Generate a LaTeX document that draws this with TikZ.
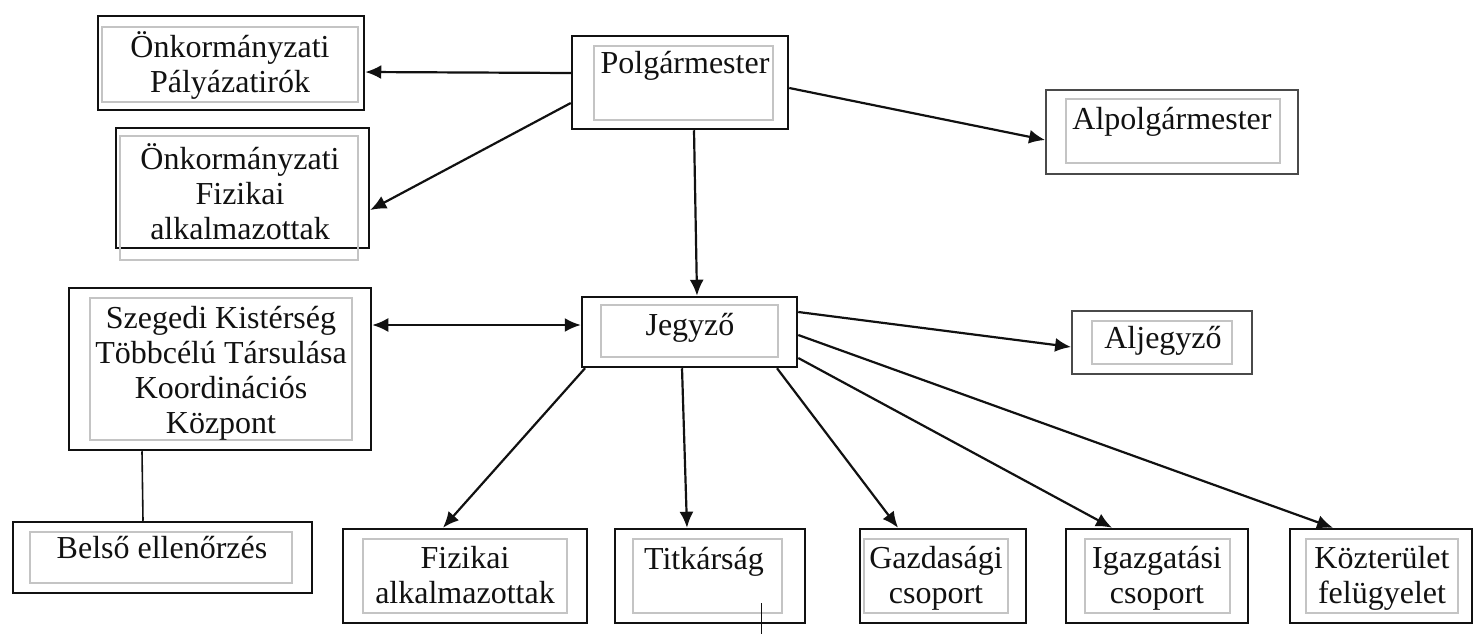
\documentclass[tikz,border=0pt]{standalone}
\usepackage{fontspec}
\setmainfont{Liberation Serif}
\usetikzlibrary{arrows.meta,positioning}
\definecolor{ink}{HTML}{111111}
\definecolor{frame}{HTML}{C4C4C4}
\definecolor{soft}{HTML}{4A4A4A}

\begin{document}
\begin{tikzpicture}[x=1pt,y=-1pt,
    font=\fontsize{32}{35}\selectfont,
    outerbox/.style={draw=ink,line width=2.5pt,inner sep=0pt},
    softbox/.style={draw=soft,line width=1.8pt,inner sep=0pt},
    innerbox/.style={draw=frame,line width=1.1pt,inner sep=0pt},
    lbl/.style={ink,align=center,inner sep=0pt},
    link/.style={ink,line width=2.2pt,-{Latex[length=16pt,width=14pt]}},
    twoway/.style={ink,line width=2.2pt,{Latex[length=16pt,width=14pt]}-{Latex[length=16pt,width=14pt]}},
  ]
  \useasboundingbox (0,0) rectangle (1482,634);

  % ============================================================= BOXES
  % outer frames: name / centre x / centre y / width / height (pixels)
  \foreach \nm/\cx/\cy/\ow/\oh in {
      palya/231/63/266/94, onkfiz/242.5/188/253/120, polg/680/82.5/216/93,
      szeg/220/369/302/162, belso/162.5/557.5/299/71, jegyzo/689.5/332/215/70,
      fizb/465/576/244/94, tit/710/576/190/94, gaz/943/576/166/94,
      igaz/1157/576/182/94, koz/1381/576/182/94}{
    \node[outerbox,minimum width=\ow,minimum height=\oh] (\nm) at (\cx,\cy){};
  }
  % the two deputies have a lighter frame
  \foreach \nm/\cx/\cy/\ow/\oh in {alp/1172/132/252/84, aljegyzo/1162/342.5/180/63}{
    \node[softbox,minimum width=\ow,minimum height=\oh] (\nm) at (\cx,\cy){};
  }
  % inner grey text frames
  \foreach \nm/\cx/\cy/\iw/\ih in {
      palya/230/64.5/256/75, onkfiz/239/198/238/124, polg/683.5/83/179/74,
      alp/1173/131/214/64, szeg/221/369/262/142, belso/161/557.5/262/51,
      jegyzo/689.5/331/177/52, aljegyzo/1162/342.5/140/43,
      fizb/465/576/204/74, tit/707.5/576/149/74, gaz/936/576/144/74,
      igaz/1157.5/576/145/74, koz/1382/576/152/74}{
    \node[innerbox,minimum width=\iw,minimum height=\ih] (\nm-i) at (\cx,\cy){};
  }

  % ============================================================= LABELS
  \node[lbl] (palya-t)    at (230,65)    {Önkormányzati\\Pályázatirók};
  \node[lbl] (onkfiz-t)   at (240,192)   {Önkormányzati\\Fizikai\\alkalmazottak};
  \node[lbl] (polg-t)     at (685,66)    {Polgármester};
  \node[lbl] (alp-t)      at (1172,121.5){Alpolgármester};
  \node[lbl] (szeg-t)     at (221,373.5) {Szegedi Kistérség\\Többcélú Társulása\\Koordinációs\\Központ};
  \node[lbl] (belso-t)    at (162,547.5) {Belső ellenőrzés};
  \node[lbl] (jegyzo-t)   at (690,327.5) {Jegyző};
  \node[lbl] (aljegyzo-t) at (1163,340.5){Aljegyző};
  \node[lbl] (fizb-t)     at (465,575.5) {Fizikai\\alkalmazottak};
  \node[lbl] (tit-t)      at (704,562)   {Titkárság};
  \node[lbl] (gaz-t)      at (936,578)   {Gazdasági\\csoport};
  \node[lbl] (igaz-t)     at (1157,578)  {Igazgatási\\csoport};
  \node[lbl] (koz-t)      at (1382,578)  {Közterület\\felügyelet};

  % ============================================================= LINKS
  \draw[link] ([yshift=9.5pt]polg.west) -- ([yshift=-9pt]palya.east);
  \draw[link] ([yshift=-20.5pt]polg.west) -- ([yshift=-22pt]onkfiz.east);
  \draw[link] ([yshift=-5.5pt]polg.east) -- ([yshift=-8pt]alp.west);
  \draw[link] ([xshift=14pt]polg.south) -- ([xshift=7.5pt]jegyzo.north);
  \draw[twoway] ([yshift=44pt]szeg.east) -- ([yshift=7pt]jegyzo.west);
  \draw[ink,line width=1.6pt] ([xshift=-78pt]szeg.south) -- ([xshift=-19.5pt]belso.north);

  % Jegyző fans out to the deputy and the five groups
  \draw[link] ([yshift=20pt]jegyzo.east) -- ([yshift=-4.5pt]aljegyzo.west);
  \draw[link] ([yshift=-3pt]jegyzo.east) -- ([xshift=-48pt]koz.north);
  \draw[link] ([yshift=-26pt]jegyzo.east) -- ([xshift=-45pt]igaz.north);
  \draw[link] ([xshift=87.5pt]jegyzo.south) -- ([xshift=-45pt]gaz.north);
  \draw[link] ([xshift=-7.5pt]jegyzo.south) -- ([xshift=-23pt]tit.north);
  \draw[link] ([xshift=-104.5pt]jegyzo.south) -- ([xshift=-22pt]fizb.north);

  % short stray tick under Titkárság
  \coordinate (tick-a) at (761,603);
  \coordinate (tick-b) at (761,634);
  \draw[ink,line width=1pt] (tick-a) -- (tick-b);

\end{tikzpicture}
\end{document}
